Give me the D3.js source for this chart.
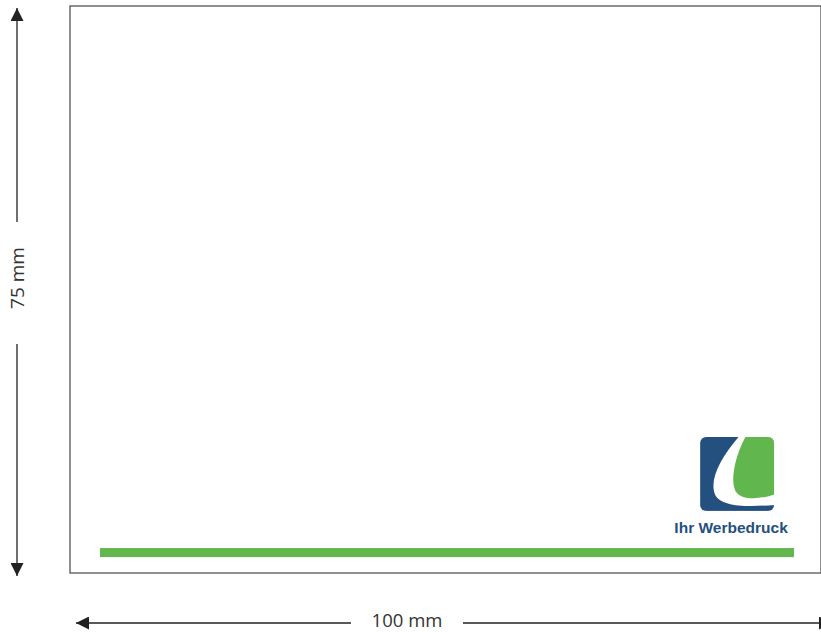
<!DOCTYPE html>
<meta charset="utf-8">
<script src="https://d3js.org/d3.v7.min.js"></script>
<style>
  body { margin: 0; background: #fff; }
  svg { display: block; }
</style>
<svg></svg>
<script>

    var width = 821;
    var height = 632;

    // card format in mm
    var dims = [100, 75];
    var dimLabels = ["100 mm", "75 mm"];
    // green stripe [x0, x1, y0, y1] in mm
    var stripe = [4.0, 96.4, 71.7, 72.9];
    // logo box [x0, y0, size] in mm, and its caption
    var logoBox = [83.9, 57.0, 9.85];
    var logoText = "Ihr Werbedruck";

    var blue = "#24507f", green = "#62b64e", ink = "#222";

    var x = d3.scaleLinear().domain([0, dims[0]]).range([70, 821]);
    var y = d3.scaleLinear().domain([0, dims[1]]).range([6, 573]);

    var svg = d3.select("svg")
        .attr("width", width)
        .attr("height", height)
        .attr("viewBox", [0, 0, width, height]);

    svg.append("defs").selectAll("marker")
        .data(["arr"])
        .join("marker")
        .attr("id", d => d)
        .attr("viewBox", "0 0 10 10")
        .attr("refX", 10).attr("refY", 5)
        .attr("markerWidth", 13).attr("markerHeight", 13)
        .attr("markerUnits", "userSpaceOnUse")
        .attr("orient", "auto-start-reverse")
        .append("path")
        .attr("d", "M0,0 L10,5 L0,10 Z")
        .attr("fill", ink);

    // card outline
    svg.append("rect")
        .attr("x", x(0)).attr("y", y(0))
        .attr("width", x(dims[0]) - x(0))
        .attr("height", y(dims[1]) - y(0))
        .attr("fill", "none")
        .attr("stroke", "#555")
        .attr("stroke-width", 1.3);

    // green stripe
    svg.append("rect")
        .attr("x", x(stripe[0])).attr("y", y(stripe[2]))
        .attr("width", x(stripe[1]) - x(stripe[0]))
        .attr("height", y(stripe[3]) - y(stripe[2]))
        .attr("fill", green);

    // logo
    var lx = x(logoBox[0]), ly = y(logoBox[1]);
    var ls = x(logoBox[0] + logoBox[2]) - lx;
    var k = ls / 75;
    svg.append("clipPath").attr("id", "logoclip")
        .append("rect")
        .attr("x", lx).attr("y", ly)
        .attr("width", ls).attr("height", ls)
        .attr("rx", 6);

    var logo = svg.append("g").attr("clip-path", "url(#logoclip)");
    logo.append("rect")
        .attr("x", lx).attr("y", ly)
        .attr("width", ls).attr("height", ls)
        .attr("fill", blue);
    var lg = logo.append("g").attr("transform", `translate(${lx},${ly}) scale(${k})`);
    lg.append("path")
        .attr("d", "M39,0 C22,20 9,42 15,58 C21,71 46,71 76,69 L76,-1 Z")
        .attr("fill", "#fff");
    lg.append("path")
        .attr("d", "M46,0 L76,0 L76,58 C62,63 42,65 36,55 C30,44 36,18 46,0 Z")
        .attr("fill", green);

    svg.append("text")
        .attr("x", lx + ls / 2 - 6)
        .attr("y", ly + ls + 22)
        .attr("text-anchor", "middle")
        .attr("font-family", "'Liberation Sans', Arial, sans-serif")
        .attr("font-weight", "bold")
        .attr("font-size", 15.5)
        .attr("fill", blue)
        .text(logoText);

    // horizontal dimension
    var hy = 623, hmid = 407, hgap = 56;
    svg.append("line")
        .attr("x1", hmid - hgap).attr("y1", hy)
        .attr("x2", 76).attr("y2", hy)
        .attr("stroke", ink).attr("stroke-width", 1.3)
        .attr("marker-end", "url(#arr)");
    svg.append("line")
        .attr("x1", hmid + hgap).attr("y1", hy)
        .attr("x2", 832).attr("y2", hy)
        .attr("stroke", ink).attr("stroke-width", 1.3)
        .attr("marker-end", "url(#arr)");
    svg.append("text")
        .attr("x", hmid).attr("y", hy + 4)
        .attr("text-anchor", "middle")
        .attr("font-family", "'Open Sans', 'Noto Sans', sans-serif")
        .attr("font-size", 18.5)
        .attr("fill", "#333")
        .text(dimLabels[0]);

    // vertical dimension
    var vx = 17, vmid = 283, vgap = 61;
    svg.append("line")
        .attr("x1", vx).attr("y1", vmid - vgap)
        .attr("x2", vx).attr("y2", 8)
        .attr("stroke", ink).attr("stroke-width", 1.3)
        .attr("marker-end", "url(#arr)");
    svg.append("line")
        .attr("x1", vx).attr("y1", vmid + vgap)
        .attr("x2", vx).attr("y2", 576)
        .attr("stroke", ink).attr("stroke-width", 1.3)
        .attr("marker-end", "url(#arr)");
    svg.append("text")
        .attr("transform", `translate(${vx + 7},${vmid - 5}) rotate(-90)`)
        .attr("text-anchor", "middle")
        .attr("font-family", "'Open Sans', 'Noto Sans', sans-serif")
        .attr("font-size", 19)
        .attr("fill", "#333")
        .text(dimLabels[1]);

</script>
